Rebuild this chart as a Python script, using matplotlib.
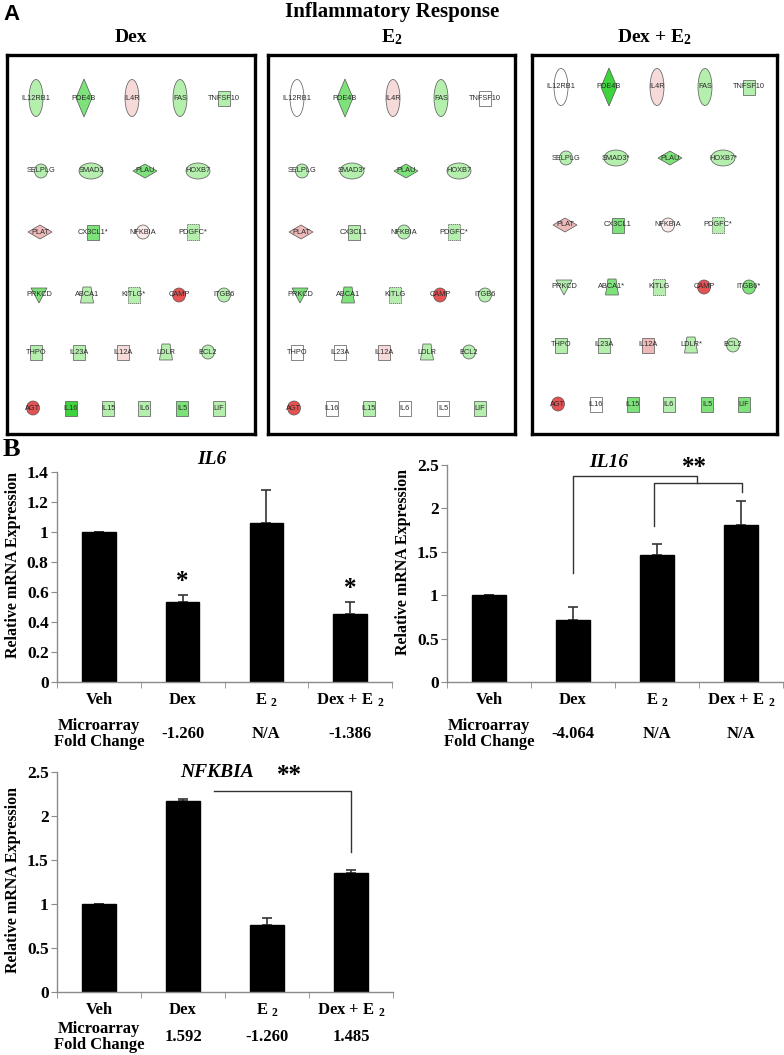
import numpy as np
import matplotlib.pyplot as plt
from matplotlib.patches import Ellipse, Rectangle, Polygon

plt.rcParams['font.family'] = ['Liberation Serif', 'DejaVu Serif']
plt.rcParams['mathtext.fontset'] = 'custom'
plt.rcParams['mathtext.rm'] = 'Liberation Serif:bold'
plt.rcParams['mathtext.bf'] = 'Liberation Serif:bold'
plt.rcParams['mathtext.it'] = 'Liberation Serif:italic:bold'

# ---- panel A : network nodes ----
gene_rows = [
    ["IL12RB1", "PDE4B", "IL4R", "FAS", "TNFSF10"],
    ["SELPLG", "SMAD3", "PLAU", "HOXB7"],
    ["PLAT", "CX3CL1", "NFKBIA", "PDGFC"],
    ["PRKCD", "ABCA1", "KITLG", "CAMP", "ITGB6"],
    ["THPO", "IL23A", "IL12A", "LDLR", "BCL2"],
    ["AGT", "IL16", "IL15", "IL6", "IL5", "LIF"],
]
gene_shape = {
    "IL12RB1": "vellipse", "PDE4B": "vdiamond", "IL4R": "vellipse", "FAS": "vellipse",
    "TNFSF10": "square", "SELPLG": "circle", "SMAD3": "hellipse", "PLAU": "hdiamond",
    "HOXB7": "hellipse", "PLAT": "hdiamond", "CX3CL1": "square", "NFKBIA": "circle",
    "PDGFC": "dsquare", "PRKCD": "triangle", "ABCA1": "trapezoid", "KITLG": "dsquare",
    "CAMP": "circle", "ITGB6": "circle", "THPO": "square", "IL23A": "square",
    "IL12A": "square", "LDLR": "trapezoid", "BCL2": "circle", "AGT": "circle",
    "IL16": "square", "IL15": "square", "IL6": "square", "IL5": "square", "LIF": "square",
}
dex_colors = [
    ["lg", "g", "lp", "lg", "lg"],
    ["lg", "lg", "g", "lg"],
    ["p", "g", "vp", "lg"],
    ["g", "lg", "lg", "r", "lg"],
    ["lg", "lg", "lp", "lg", "lg"],
    ["r", "bg", "lg", "lg", "g", "lg"],
]
e2_colors = [
    ["w", "g", "lp", "lg", "w"],
    ["lg", "lg", "g", "lg"],
    ["p", "lg", "lg", "lg"],
    ["g", "g", "lg", "r", "lg"],
    ["w", "w", "lp", "lg", "lg"],
    ["r", "w", "lg", "w", "w", "lg"],
]
dexe2_colors = [
    ["w", "bg", "lp", "lg", "lg"],
    ["lg", "lg", "g", "lg"],
    ["p", "g", "vp", "lg"],
    ["lg", "g", "lg", "r", "g"],
    ["lg", "lg", "p", "lg", "lg"],
    ["r", "w", "g", "lg", "g", "g"],
]
dex_star = {"CX3CL1", "PDGFC", "KITLG"}
e2_star = {"SMAD3", "PDGFC"}
dexe2_star = {"SMAD3", "HOXB7", "PDGFC", "ABCA1", "ITGB6", "LDLR"}

# ---- panel B : qPCR ----
conditions = ["Veh", "Dex", r"E$\ _\mathrm{2}$", r"Dex + E$\ _\mathrm{2}$"]
il6_mean = [1.0, 0.535, 1.06, 0.455]
il6_err = [0.003, 0.045, 0.22, 0.08]
il6_fold = ["-1.260", "N/A", "-1.386"]
il16_mean = [1.0, 0.71, 1.46, 1.81]
il16_err = [0.004, 0.155, 0.13, 0.275]
il16_fold = ["-4.064", "N/A", "N/A"]
nfkbia_mean = [1.0, 2.17, 0.76, 1.355]
nfkbia_err = [0.004, 0.025, 0.08, 0.03]
nfkbia_fold = ["1.592", "-1.260", "1.485"]

palette = {"w": "white", "lg": "#b4efae", "g": "#7ee27a", "bg": "#3dd43d",
           "vp": "#fbeaea", "lp": "#f6d9d9", "p": "#eeb9b9", "r": "#e65252"}

W, H = 784, 1055
fig = plt.figure(figsize=(W / 100, H / 100), dpi=100)


def px_axes(left, top, right, bottom):
    return fig.add_axes([left / W, 1 - bottom / H, (right - left) / W, (bottom - top) / H])


def draw_node(ax, x, y, shape, color, label):
    kw = dict(facecolor=color, edgecolor='#555555', linewidth=0.5)
    if shape == "vellipse":
        p = Ellipse((x, y), 14, 37, **kw)
    elif shape == "hellipse":
        p = Ellipse((x, y), 24, 16, **kw)
    elif shape == "circle":
        p = Ellipse((x, y), 13, 14, **kw)
    elif shape == "vdiamond":
        p = Polygon([(x, y - 19), (x + 8, y), (x, y + 19), (x - 8, y)], closed=True, **kw)
    elif shape == "hdiamond":
        p = Polygon([(x - 12, y), (x, y - 7), (x + 12, y), (x, y + 7)], closed=True, **kw)
    elif shape == "triangle":
        p = Polygon([(x - 8, y - 7), (x + 8, y - 7), (x, y + 8)], closed=True, **kw)
    elif shape == "trapezoid":
        p = Polygon([(x - 4, y - 8), (x + 4, y - 8), (x + 6.5, y + 8), (x - 6.5, y + 8)], closed=True, **kw)
    elif shape == "dsquare":
        p = Rectangle((x - 6, y - 8), 12, 16, linestyle=(0, (2, 1)), **kw)
    else:
        p = Rectangle((x - 6, y - 7.5), 12, 15, **kw)
    ax.add_patch(p)
    ax.text(x, y, label, ha='center', va='center', fontsize=5.3, color='#2a2a2a',
            family=['Liberation Sans Narrow', 'Liberation Sans', 'DejaVu Sans'])


col_pos = [[29, 77, 125, 173, 217], [34, 84, 138, 191], [33, 86, 136, 186],
           [32, 80, 127, 172, 217], [29, 72, 116, 159, 201], [26, 64, 101, 137, 175, 212]]
boxes = [
    (7, 255, "Dex", dex_colors, dex_star, [43, 116, 177, 240, 297, 353]),
    (268, 515, r"E$_\mathrm{2}$", e2_colors, e2_star, [43, 116, 177, 240, 297, 353]),
    (532, 777, r"Dex + E$_\mathrm{2}$", dexe2_colors, dexe2_star, [32, 103, 170, 232, 290, 349]),
]
top, bot = 55, 434
for left, right, title, colors, stars, rows_y in boxes:
    ax = px_axes(left, top, right, bot)
    ax.set_xlim(0, right - left)
    ax.set_ylim(bot - top, 0)
    ax.set_xticks([])
    ax.set_yticks([])
    for s in ax.spines.values():
        s.set_linewidth(2.4)
        s.set_color('black')
    for r, genes in enumerate(gene_rows):
        for c, g in enumerate(genes):
            lab = g + "*" if g in stars else g
            draw_node(ax, col_pos[r][c], rows_y[r], gene_shape[g], palette[colors[r][c]], lab)
    fig.text((left + right) / 2 / W, 1 - 37 / H, title, ha='center', va='center',
             fontsize=14, fontweight='bold')

fig.text(392 / W, 1 - 12 / H, "Inflammatory Response", ha='center', va='center',
         fontsize=15, fontweight='bold')
fig.text(3 / W, 1 - 14 / H, "A", ha='left', va='center', fontsize=16, fontweight='bold',
         family='Liberation Sans')
fig.text(3 / W, 1 - 449 / H, "B", ha='left', va='center', fontsize=19, fontweight='bold')


def bar_panel(rect, means, errs, folds, ymax, ystep, title, title_xy, ylab_xy, block_gap):
    left, topy, right, boty = rect
    ax = px_axes(left, topy, right, boty)
    hpx = boty - topy
    x = np.arange(4)
    ax.bar(x, means, width=0.4, color='black', edgecolor='black', zorder=2)
    ax.errorbar(x, means, yerr=[np.zeros(4), errs], fmt='none', ecolor='#333333',
                elinewidth=1.2, capsize=3.5, capthick=1.2, zorder=1)
    ax.set_xlim(-0.5, 3.5)
    ax.set_ylim(0, ymax)
    ticks = np.round(np.arange(0, ymax + 1e-9, ystep), 2)
    ax.set_yticks(ticks, labels=[f"{t:g}" for t in ticks])
    ax.set_xticks(x, labels=conditions)
    ax.set_xticks(np.arange(-0.5, 4), minor=True)
    for s in ["top", "right"]:
        ax.spines[s].set_visible(False)
    for s in ["left", "bottom"]:
        ax.spines[s].set_color('#8a8a8a')
        ax.spines[s].set_linewidth(1.0)
    ax.tick_params(axis='y', direction='out', length=4, color='#8a8a8a', labelsize=12.5, pad=2)
    ax.tick_params(axis='x', which='major', length=0, labelsize=12, pad=7)
    ax.tick_params(axis='x', which='minor', direction='out', length=4, color='#8a8a8a')
    for t in ax.get_xticklabels() + ax.get_yticklabels():
        t.set_fontweight('bold')
    tr = ax.get_xaxis_transform()
    ax.text(0, -block_gap / hpx, "Microarray\nFold Change", transform=tr, ha='center',
            va='center', fontsize=12, fontweight='bold', linespacing=1.05)
    for i, f in enumerate(folds):
        ax.text(i + 1, -block_gap / hpx, f, transform=tr, ha='center', va='center',
                fontsize=12, fontweight='bold')
    ax.text(title_xy[0], title_xy[1], title, ha='center', va='center', fontsize=14,
            fontweight='bold', fontstyle='italic', clip_on=False)
    fig.text(ylab_xy[0] / W, 1 - ylab_xy[1] / H, "Relative mRNA Expression",
             rotation=90, ha='center', va='center', fontsize=11.5, fontweight='bold')
    return ax


ax1 = bar_panel((57, 472, 392, 682), il6_mean, il6_err, il6_fold, 1.4, 0.2,
                "IL6", (1.35, 1.48), (13, 565), 52)
for i in [1, 3]:
    ax1.text(i, il6_mean[i] + il6_err[i] + 0.09, "*", ha='center', va='center',
             fontsize=18, fontweight='bold')

ax2 = bar_panel((447, 465, 783, 682), il16_mean, il16_err, il16_fold, 2.5, 0.5,
                "IL16", (1.42, 2.53), (403, 562), 52)
lk = dict(color='#333333', lw=1.0, clip_on=False)
ax2.plot([1.0, 1.0, 2.48, 2.48], [1.26, 2.37, 2.37, 2.29], **lk)
ax2.plot([1.96, 1.96, 3.01, 3.01], [1.80, 2.29, 2.29, 2.19], **lk)
ax2.text(2.45, 2.47, "**", ha='center', va='center', fontsize=18, fontweight='bold')

ax3 = bar_panel((57, 772, 393, 992), nfkbia_mean, nfkbia_err, nfkbia_fold, 2.5, 0.5,
                "NFKBIA", (1.40, 2.49), (13, 880), 45)
ax3.plot([1.37, 3.0, 3.0], [2.28, 2.28, 1.59], **lk)
ax3.text(2.27, 2.46, "**", ha='center', va='center', fontsize=18, fontweight='bold')

fig.savefig("out.png", dpi=100)
